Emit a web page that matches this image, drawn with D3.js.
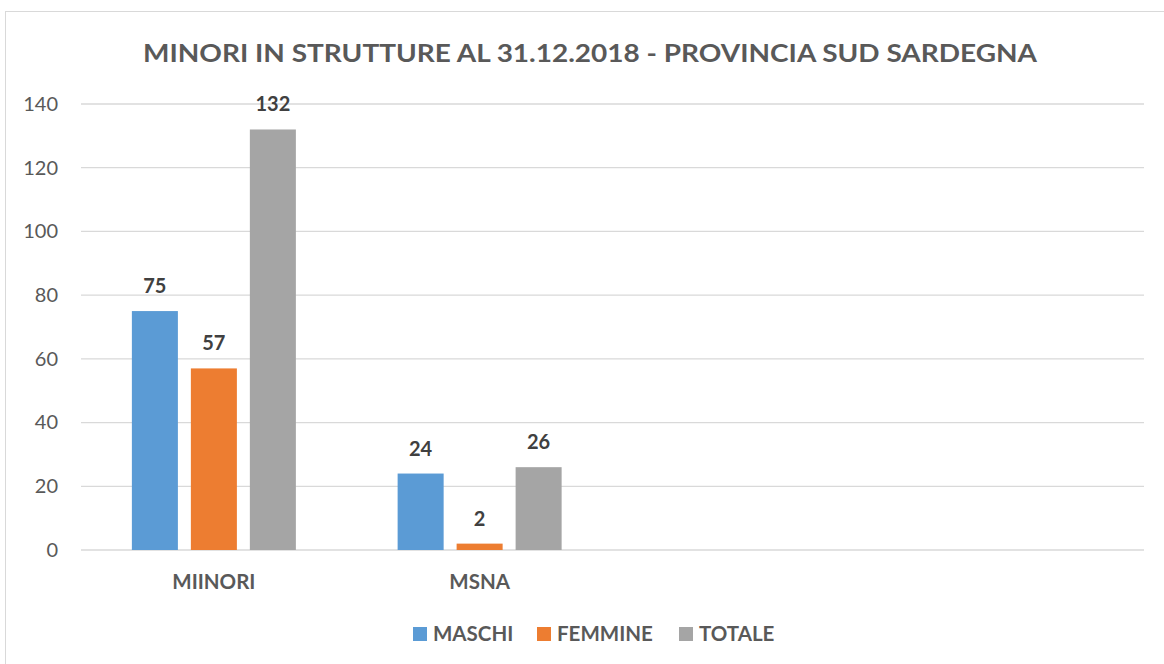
<!DOCTYPE html>
<html>
<head>
<meta charset="utf-8">
<script src="https://cdn.jsdelivr.net/npm/d3@7"></script>
<style>
  body { margin: 0; background: #fff; }
  text { font-family: Lato, "Open Sans", sans-serif; }
</style>
</head>
<body>
<svg id="chart" width="1164" height="664"></svg>
<script>
// chart data
const categories = ["MIINORI", "MSNA", "", ""];
const series = ["MASCHI", "FEMMINE", "TOTALE"];
const maschi = [75, 24, null, null];
const femmine = [57, 2, null, null];
const totale = [132, 26, null, null];
const colors = ["#5b9bd5", "#ed7d31", "#a5a5a5"];
const yTicks = [0, 20, 40, 60, 80, 100, 120, 140];

const values = [maschi, femmine, totale];
const svg = d3.select("#chart");

// outer frame
svg.append("rect")
  .attr("x", 5.5).attr("y", 11.5)
  .attr("width", 1170).attr("height", 670)
  .attr("fill", "#fff").attr("stroke", "#d9d9d9");

svg.append("text")
  .attr("x", 590).attr("y", 62)
  .attr("text-anchor", "middle")
  .attr("font-size", 25).attr("font-weight", "bold")
  .attr("fill", "#595959")
  .attr("textLength", 894).attr("lengthAdjust", "spacingAndGlyphs")
  .text("MINORI IN STRUTTURE AL 31.12.2018 - PROVINCIA SUD SARDEGNA");

const x = d3.scaleBand()
  .domain(d3.range(categories.length))
  .range([81, 1144]);

const groupW = 164;
const xs = d3.scaleBand()
  .domain(series)
  .range([0, groupW])
  .paddingInner(0.22);

const y = d3.scaleLinear().domain([0, 140]).range([550, 104]);

// gridlines
svg.append("g").selectAll("line")
  .data(yTicks)
  .join("line")
  .attr("x1", 81).attr("x2", 1144)
  .attr("y1", d => y(d)).attr("y2", d => y(d))
  .attr("stroke", "#d9d9d9").attr("stroke-width", 1.3);

// y axis labels
const yAxis = svg.append("g")
  .attr("transform", "translate(66,0)")
  .call(d3.axisLeft(y).tickValues(yTicks).tickSize(0).tickPadding(8));
yAxis.select(".domain").remove();
yAxis.selectAll("text")
  .attr("font-size", 20).attr("fill", "#595959")
  .attr("font-family", "Lato, 'Open Sans', sans-serif");

// category labels
const xAxis = svg.append("g")
  .attr("transform", "translate(0,550)")
  .call(d3.axisBottom(x).tickFormat(i => categories[i]).tickSize(0).tickPadding(24));
xAxis.select(".domain").remove();
xAxis.selectAll("text")
  .attr("font-size", 20.5).attr("font-weight", "bold").attr("fill", "#595959")
  .attr("font-family", "Lato, 'Open Sans', sans-serif");

// bars
const rows = [];
categories.forEach((c, i) => {
  series.forEach((s, j) => {
    if (values[j][i] != null) rows.push({ i, s, j, v: values[j][i] });
  });
});

const offset = (x.bandwidth() - groupW) / 2;

svg.append("g").selectAll("rect")
  .data(rows)
  .join("rect")
  .attr("x", d => x(d.i) + offset + xs(d.s))
  .attr("y", d => y(d.v))
  .attr("width", xs.bandwidth())
  .attr("height", d => y(0) - y(d.v))
  .attr("fill", d => colors[d.j]);

svg.append("g").selectAll("text")
  .data(rows)
  .join("text")
  .attr("x", d => x(d.i) + offset + xs(d.s) + xs.bandwidth() / 2)
  .attr("y", d => y(d.v) - 18)
  .attr("text-anchor", "middle")
  .attr("font-size", 20).attr("font-weight", "bold")
  .attr("fill", "#404040")
  .text(d => d.v);

// legend
const legendX = [413, 537, 679];
const legend = svg.append("g").selectAll("g")
  .data(series)
  .join("g")
  .attr("transform", (d, i) => `translate(${legendX[i]},627)`);
legend.append("rect")
  .attr("width", 14).attr("height", 14)
  .attr("fill", (d, i) => colors[i]);
legend.append("text")
  .attr("x", 20).attr("y", 14)
  .attr("font-size", 20.5).attr("font-weight", "bold")
  .attr("fill", "#595959")
  .text(d => d);
</script>
</body>
</html>
